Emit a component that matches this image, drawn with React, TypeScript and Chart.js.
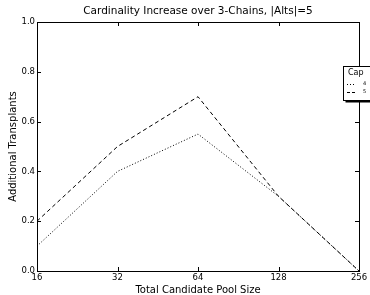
import React, { useEffect, useRef } from "react";
import { Chart, registerables } from "chart.js";

Chart.register(...registerables);

const poolSizes = ["16", "32", "64", "128", "256"];
const cap4 = [0.1, 0.4, 0.55, 0.3, 0.0];
const cap5 = [0.2, 0.5, 0.7, 0.3, 0.0];
const yTicks = [0, 0.2, 0.4, 0.6, 0.8, 1.0];
const titleText = "Cardinality Increase over 3-Chains, |Alts|=5";
const xTitle = "Total Candidate Pool Size";
const yTitle = "Additional Transplants";
const legendTitle = "Cap";
const legendLabels = ["4", "5"];

const FONT = "'DejaVu Sans', sans-serif";

const framePlugin = {
  id: "frame",
  afterDatasetsDraw(chart: any) {
    const { ctx, chartArea } = chart;
    const { left, right, top, bottom } = chartArea;
    const xs = chart.scales.x;
    const ys = chart.scales.y;
    ctx.save();
    ctx.strokeStyle = "#000";
    ctx.lineWidth = 1;
    ctx.strokeRect(Math.round(left) + 0.5, Math.round(top) + 0.5, Math.round(right - left), Math.round(bottom - top));
    ctx.beginPath();
    const tl = 4;
    poolSizes.forEach((_, i) => {
      const x = Math.round(xs.getPixelForValue(i)) + 0.5;
      ctx.moveTo(x, bottom);
      ctx.lineTo(x, bottom - tl);
      ctx.moveTo(x, top);
      ctx.lineTo(x, top + tl);
    });
    yTicks.forEach((v) => {
      const y = Math.round(ys.getPixelForValue(v)) + 0.5;
      ctx.moveTo(left, y);
      ctx.lineTo(left + tl, y);
      ctx.moveTo(right, y);
      ctx.lineTo(right - tl, y);
    });
    ctx.stroke();
    // title centred over plot area
    ctx.fillStyle = "#000";
    ctx.font = `10.5px ${FONT}`;
    ctx.textAlign = "center";
    ctx.textBaseline = "middle";
    ctx.fillText(titleText, (left + right) / 2, 11);
    ctx.restore();
  },
};

const legendPlugin = {
  id: "capLegend",
  afterDraw(chart: any) {
    const { ctx } = chart;
    const bx = 343.5, by = 66.5, bw = 40, bh = 34;
    ctx.save();
    ctx.fillStyle = "#000";
    ctx.fillRect(bx + 2, by + 2, bw, bh);
    ctx.fillStyle = "#fff";
    ctx.fillRect(bx, by, bw, bh);
    ctx.strokeStyle = "#000";
    ctx.lineWidth = 1;
    ctx.strokeRect(bx, by, bw, bh);
    ctx.fillStyle = "#000";
    ctx.font = `8px ${FONT}`;
    ctx.textAlign = "left";
    ctx.textBaseline = "middle";
    ctx.fillText(legendTitle, 348, 73);
    const dashes = [[1, 2], [3, 2]];
    const rows = [84, 92];
    ctx.font = `5px ${FONT}`;
    legendLabels.forEach((lab, i) => {
      ctx.setLineDash(dashes[i]);
      ctx.beginPath();
      ctx.moveTo(347, rows[i] + 0.5);
      ctx.lineTo(355, rows[i] + 0.5);
      ctx.stroke();
      ctx.setLineDash([]);
      ctx.fillText(lab, 363, rows[i]);
    });
    ctx.restore();
  },
};

export default function App() {
  const ref = useRef<HTMLCanvasElement>(null);
  useEffect(() => {
    document.body.style.margin = "0";
    const chart = new Chart(ref.current!, {
      type: "line",
      data: {
        labels: poolSizes,
        datasets: [
          {
            label: legendLabels[0],
            data: cap4,
            borderColor: "#000",
            borderWidth: 1,
            borderDash: [1, 2],
            pointRadius: 0,
            fill: false,
            tension: 0,
          },
          {
            label: legendLabels[1],
            data: cap5,
            borderColor: "#000",
            borderWidth: 1,
            borderDash: [4, 3],
            pointRadius: 0,
            fill: false,
            tension: 0,
          },
        ],
      },
      options: {
        animation: false,
        responsive: false,
        maintainAspectRatio: false,
        layout: { padding: { left: 0, right: 11, top: 22, bottom: 0 } },
        plugins: {
          legend: { display: false },
          tooltip: { enabled: false },
          title: { display: false },
        },
        scales: {
          x: {
            type: "category",
            offset: false,
            grid: { display: false, drawTicks: false },
            border: { display: false },
            ticks: {
              color: "#000",
              font: { family: FONT, size: 8.5 },
              padding: 2,
              maxRotation: 0,
              autoSkip: false,
            },
            title: {
              display: true,
              text: xTitle,
              color: "#000",
              font: { family: FONT, size: 10, lineHeight: 1.0 },
              padding: { top: 0, bottom: 0 },
            },
            afterFit(scale: any) {
              scale.height = 24;
            },
          },
          y: {
            min: 0,
            max: 1,
            grid: { display: false, drawTicks: false },
            border: { display: false },
            ticks: {
              stepSize: 0.2,
              color: "#000",
              font: { family: FONT, size: 8.5 },
              padding: 2,
              callback: (v: any) => Number(v).toFixed(1),
            },
            title: {
              display: true,
              text: yTitle,
              color: "#000",
              font: { family: FONT, size: 10, lineHeight: 1.2 },
              padding: { top: 7, bottom: 0 },
            },
            afterFit(scale: any) {
              scale.width = 37;
            },
          },
        },
      },
      plugins: [framePlugin, legendPlugin],
    });
    return () => chart.destroy();
  }, []);
  return (
    <div style={{ position: "absolute", left: 0, top: 0, width: 370, height: 295 }}>
      <canvas ref={ref} width={370} height={295} style={{ width: 370, height: 295 }} />
    </div>
  );
}
